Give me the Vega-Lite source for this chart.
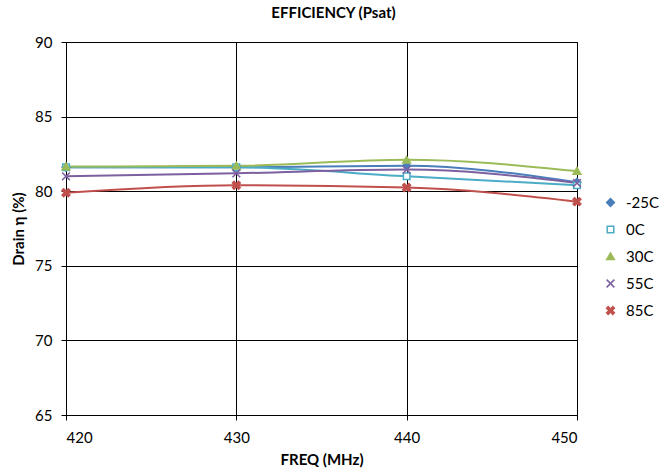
{
  "$schema": "https://vega.github.io/schema/vega-lite/v6.json",
  "width": 511,
  "height": 373,
  "autosize": "none",
  "padding": {"left": 66, "top": 42, "right": 93, "bottom": 61},
  "background": "white",
  "title": {"text": "EFFICIENCY (Psat)", "font": "Lato", "fontSize": 15, "fontWeight": "bold", "color": "#000", "anchor": "middle", "dx": 12, "offset": 14},
  "data": {"values": [
    {"freq": 420, "eff": 81.6, "series": "-25C"},
    {"freq": 430, "eff": 81.6, "series": "-25C"},
    {"freq": 440, "eff": 81.7, "series": "-25C"},
    {"freq": 450, "eff": 80.6, "series": "-25C"},
    {"freq": 420, "eff": 81.6, "series": "0C"},
    {"freq": 430, "eff": 81.6, "series": "0C"},
    {"freq": 440, "eff": 81.0, "series": "0C"},
    {"freq": 450, "eff": 80.4, "series": "0C"},
    {"freq": 420, "eff": 81.65, "series": "30C"},
    {"freq": 430, "eff": 81.7, "series": "30C"},
    {"freq": 440, "eff": 82.1, "series": "30C"},
    {"freq": 450, "eff": 81.35, "series": "30C"},
    {"freq": 420, "eff": 81.0, "series": "55C"},
    {"freq": 430, "eff": 81.2, "series": "55C"},
    {"freq": 440, "eff": 81.45, "series": "55C"},
    {"freq": 450, "eff": 80.55, "series": "55C"},
    {"freq": 420, "eff": 79.9, "series": "85C"},
    {"freq": 430, "eff": 80.4, "series": "85C"},
    {"freq": 440, "eff": 80.25, "series": "85C"},
    {"freq": 450, "eff": 79.3, "series": "85C"}
  ]},
  "encoding": {
    "x": {"field": "freq", "type": "quantitative", "scale": {"domain": [420, 450], "nice": false, "zero": false},
      "axis": {"title": "FREQ (MHz)", "values": [420, 430, 440, 450], "grid": true, "gridColor": "#000", "gridOpacity": 1, "gridWidth": 1,
        "domainColor": "#000", "tickColor": "#000", "tickSize": 5, "labelFont": "Lato", "labelFontSize": 15, "labelColor": "#000", "labelPadding": 10,
        "titleFont": "Lato", "titleFontSize": 15, "titleFontWeight": "bold", "titleColor": "#000", "titlePadding": 7}},
    "y": {"field": "eff", "type": "quantitative", "scale": {"domain": [65, 90], "nice": false, "zero": false},
      "axis": {"title": "Drain η (%)", "values": [65, 70, 75, 80, 85, 90], "grid": true, "gridColor": "#000", "gridOpacity": 1, "gridWidth": 1,
        "domainColor": "#000", "tickColor": "#000", "tickSize": 5, "labelFont": "Lato", "labelFontSize": 15, "labelColor": "#000", "labelPadding": 9,
        "titleFont": "Lato", "titleFontSize": 15, "titleFontWeight": "bold", "titleColor": "#000", "titlePadding": 8}}
  },
  "layer": [
    {
      "mark": {"type": "line", "interpolate": "monotone", "strokeWidth": 2},
      "encoding": {
        "stroke": {"field": "series", "type": "nominal", "title": null,
          "scale": {"domain": ["-25C", "0C", "30C", "55C", "85C"], "range": ["#4A7EBB", "#4BACC6", "#9BBB59", "#7D60A0", "#C0504D"]},
          "legend": {"orient": "none", "legendX": 537, "legendY": 153}}
      }
    },
    {
      "mark": {"type": "point", "filled": false, "strokeWidth": 1.5, "size": 60, "opacity": 1},
      "encoding": {
        "stroke": {"field": "series", "type": "nominal", "title": null},
        "fill": {"field": "series", "type": "nominal", "title": null,
          "scale": {"domain": ["-25C", "0C", "30C", "55C", "85C"], "range": ["#4A7EBB", "#FFFFFF", "#9BBB59", "transparent", "#C0504D"]},
          "legend": {"orient": "none", "legendX": 537, "legendY": 153,
            "encode": {"symbols": {"shape": {"value": {"expr": "datum.value === '-25C' ? 'M-2.7,0L-1,0M1,0L2.7,0M0,-1L1,0L0,1L-1,0Z' : datum.value === '0C' ? 'M-2.7,0L-0.85,0M0.85,0L2.7,0M-0.85,-0.85H0.85V0.85H-0.85Z' : datum.value === '30C' ? 'M-2.7,0L-1,0M1,0L2.7,0M-1,0.8L0,-0.9L1,0.8Z' : datum.value === '55C' ? 'M-2.7,0L2.7,0M-1,-1L1,1M-1,1L1,-1' : 'M-2.7,0L-1,0M1,0L2.7,0M-1,-0.6L-0.6,-1L0,-0.4L0.6,-1L1,-0.6L0.4,0L1,0.6L0.6,1L0,0.4L-0.6,1L-1,0.6L-0.4,0Z'"}}}}}},
        "shape": {"field": "series", "type": "nominal", "title": null,
          "scale": {"domain": ["-25C", "0C", "30C", "55C", "85C"], "range": ["M0,-1L1,0L0,1L-1,0Z", "M-0.85,-0.85H0.85V0.85H-0.85Z", "M-1,0.8L0,-0.9L1,0.8Z", "M-1,-1L1,1M-1,1L1,-1", "M-1,-0.6L-0.6,-1L0,-0.4L0.6,-1L1,-0.6L0.4,0L1,0.6L0.6,1L0,0.4L-0.6,1L-1,0.6L-0.4,0Z"]},
          "legend": {"orient": "none", "legendX": 537, "legendY": 153}}
      }
    }
  ],
  "config": {
    "view": {"stroke": "#000", "strokeWidth": 1},
    "legend": {"labelFont": "Lato", "labelFontSize": 15, "labelColor": "#000", "rowPadding": 11, "symbolSize": 60, "symbolStrokeWidth": 1.5, "labelOffset": 8}
  }
}
